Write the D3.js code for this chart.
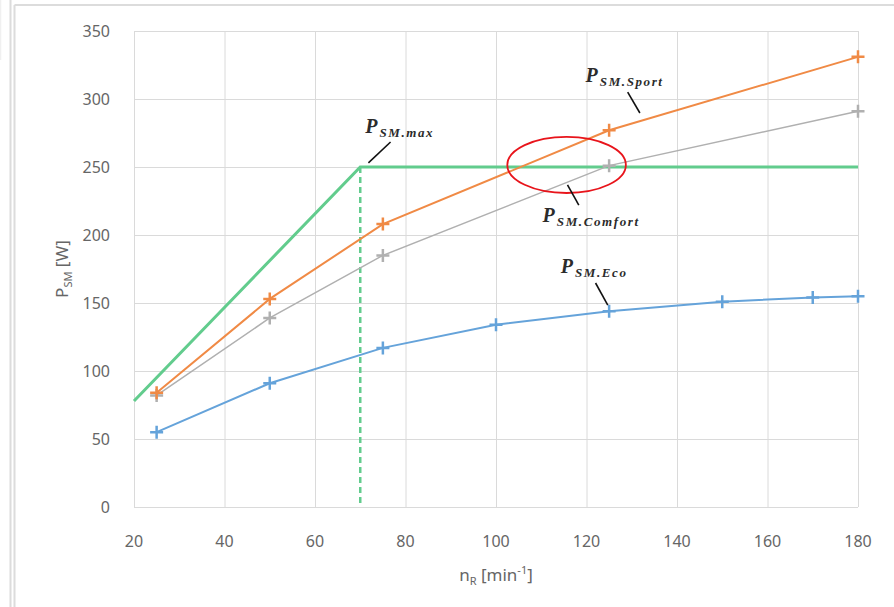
<!DOCTYPE html>
<html>
<head>
<meta charset="utf-8">
<script src="https://cdn.jsdelivr.net/npm/d3@7"></script>
<style>
  body { margin: 0; background: #fff; }
  text { font-family: "Noto Sans", sans-serif; }
  .note { font-family: "Liberation Serif", serif; font-weight: bold; font-style: italic; fill: #2b2b2b; }
</style>
</head>
<body>
<div id="chart"></div>
<script>
"use strict";

// series values
const ecoX = [25, 50, 75, 100, 125, 150, 170, 180];
const ecoY = [55, 91, 117, 134, 144, 151, 154, 155];

const sportX = [25, 50, 75, 125, 180];
const sportY = [84, 153, 208, 277, 331];

const comfortX = [25, 50, 75, 125, 180];
const comfortY = [82, 139, 185, 251, 291];

const maxX = [20, 70, 180];
const maxY = [78, 250, 250];

const xTicks = [20, 40, 60, 80, 100, 120, 140, 160, 180];
const yTicks = [0, 50, 100, 150, 200, 250, 300, 350];

// annotations: [label, subscript, textX, textY, lineX1, lineY1, lineX2, lineY2] in data units
const notes = [
  ["P", "SM.max", 71.1, 275, 71.8, 253, 76.7, 268.4],
  ["P", "SM.Sport", 119.8, 312.5, 129.1, 305, 131.8, 289.7],
  ["P", "SM.Comfort", 110.3, 209.6, 115.8, 236.8, 118.3, 222],
  ["P", "SM.Eco", 114.3, 172, 122, 164.7, 124.7, 148.5]
];

const width = 894, height = 607;
const margin = { top: 31, right: 36, bottom: 100, left: 134 };

const svg = d3.select("#chart")
  .append("svg")
  .attr("width", width)
  .attr("height", height);

// outer frame bits
svg.append("line").attr("x1", 14.5).attr("x2", width).attr("y1", 5).attr("y2", 5)
  .attr("stroke", "#dcdcdc").attr("stroke-width", 2);
svg.append("line").attr("x1", 10.5).attr("x2", 10.5).attr("y1", 0).attr("y2", height)
  .attr("stroke", "#dcdcdc").attr("stroke-width", 2);
svg.append("line").attr("x1", 14.5).attr("x2", 14.5).attr("y1", 5).attr("y2", height)
  .attr("stroke", "#dcdcdc").attr("stroke-width", 2);
svg.append("line").attr("x1", 0.5).attr("x2", 0.5).attr("y1", 0).attr("y2", 60)
  .attr("stroke", "#f0f0f0").attr("stroke-width", 1.5);

const x = d3.scaleLinear().domain([20, 180]).range([margin.left, width - margin.right]);
const y = d3.scaleLinear().domain([0, 350]).range([height - margin.bottom, margin.top]);

// grid
svg.append("g")
  .attr("transform", `translate(0,${height - margin.bottom})`)
  .call(d3.axisBottom(x).tickValues(xTicks).tickSize(-(y(0) - y(350))).tickFormat(""))
  .call(g => g.select(".domain").remove())
  .call(g => g.selectAll("line").attr("stroke", "#dadada"));

svg.append("g")
  .attr("transform", `translate(${margin.left},0)`)
  .call(d3.axisLeft(y).tickValues(yTicks).tickSize(-(x(180) - x(20))).tickFormat(""))
  .call(g => g.select(".domain").remove())
  .call(g => g.selectAll("line").attr("stroke", "#dadada"));

// tick labels
svg.append("g")
  .selectAll("text")
  .data(xTicks)
  .enter()
  .append("text")
  .attr("x", d => x(d))
  .attr("y", y(0) + 40)
  .attr("text-anchor", "middle")
  .attr("font-size", 16)
  .attr("fill", "#666")
  .text(d => d);

svg.append("g")
  .selectAll("text")
  .data(yTicks)
  .enter()
  .append("text")
  .attr("x", margin.left - 24)
  .attr("y", d => y(d) + 6)
  .attr("text-anchor", "end")
  .attr("font-size", 16)
  .attr("fill", "#666")
  .text(d => d);

// axis titles
const xt = svg.append("text")
  .attr("x", x(100))
  .attr("y", 581)
  .attr("text-anchor", "middle")
  .attr("font-size", 17)
  .attr("fill", "#666");
xt.append("tspan").text("n");
xt.append("tspan").attr("font-size", 11).attr("dy", 4).text("R");
xt.append("tspan").attr("dy", -4).text(" [min");
xt.append("tspan").attr("font-size", 11).attr("dy", -7).text("-1");
xt.append("tspan").attr("dy", 7).text("]");

const yt = svg.append("text")
  .attr("transform", `translate(68,${(y(0) + y(350)) / 2}) rotate(-90)`)
  .attr("text-anchor", "middle")
  .attr("font-size", 17)
  .attr("fill", "#666");
yt.append("tspan").text("P");
yt.append("tspan").attr("font-size", 11).attr("dy", 4).text("SM");
yt.append("tspan").attr("dy", -4).text(" [W]");

// lines
const line = d3.line().x(d => x(d[0])).y(d => y(d[1]));

function drawSeries(xs, ys, color, lw, cross, crossW) {
  const pts = xs.map((v, i) => [v, ys[i]]);
  svg.append("path")
    .datum(pts)
    .attr("d", line)
    .attr("fill", "none")
    .attr("stroke", color)
    .attr("stroke-width", lw);
  if (!cross) return;
  svg.append("g")
    .selectAll("path")
    .data(pts)
    .enter()
    .append("path")
    .attr("d", d => `M${x(d[0]) - cross},${y(d[1])}h${cross * 2}M${x(d[0])},${y(d[1]) - cross}v${cross * 2}`)
    .attr("stroke", color)
    .attr("stroke-width", crossW);
}

// P max: ramp and plateau, plus dashed drop at the corner
drawSeries(maxX, maxY, "#62cc8d", 3, 0, 0);
svg.append("line")
  .attr("x1", x(maxX[1])).attr("x2", x(maxX[1]))
  .attr("y1", y(maxY[1])).attr("y2", y(0))
  .attr("stroke", "#62cc8d")
  .attr("stroke-width", 2.5)
  .attr("stroke-dasharray", "6,4");

drawSeries(ecoX, ecoY, "#65a3da", 2, 6.5, 2.5);
drawSeries(comfortX, comfortY, "#b0b0b0", 1.5, 6.5, 2.5);
drawSeries(sportX, sportY, "#f08a45", 2, 6.5, 2.5);

// red ellipse highlight
svg.append("ellipse")
  .attr("cx", x(115.6))
  .attr("cy", y(251.5))
  .attr("rx", x(115.6 + 13.1) - x(115.6))
  .attr("ry", y(251.5) - y(251.5 + 20.6))
  .attr("fill", "none")
  .attr("stroke", "#e8141b")
  .attr("stroke-width", 1.8);

// annotations
for (const n of notes) {
  svg.append("line")
    .attr("x1", x(n[4])).attr("y1", y(n[5]))
    .attr("x2", x(n[6])).attr("y2", y(n[7]))
    .attr("stroke", "#111")
    .attr("stroke-width", 1.6);
  const t = svg.append("text")
    .attr("class", "note")
    .attr("x", x(n[2]))
    .attr("y", y(n[3]))
    .attr("font-size", 20);
  t.append("tspan").text(n[0]);
  t.append("tspan")
    .attr("dx", 2)
    .attr("dy", 4)
    .attr("font-size", 13)
    .attr("letter-spacing", 1.6)
    .text(n[1]);
}
</script>
</body>
</html>
